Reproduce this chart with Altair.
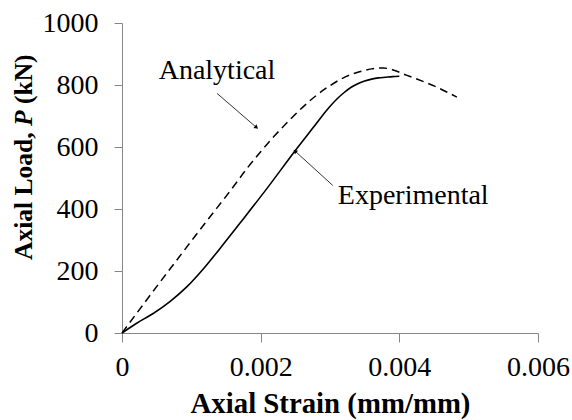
import altair as alt
import pandas as pd

# Analytical (dashed) curve
ana_strain = [0, 0.0004, 0.0008, 0.0012, 0.0016, 0.0018, 0.002, 0.0022, 0.0024,
              0.0026, 0.0028, 0.003, 0.0032, 0.0034, 0.0036, 0.00377,
              0.0039, 0.0041, 0.0045, 0.00483]
ana_load = [0, 120, 238, 355, 470, 530, 585, 636, 683,
            727, 766, 798, 824, 841, 852, 855,
            849, 832, 797, 761]

# Experimental (solid) curve
exp_strain = [0, 0.0002, 0.00045, 0.0007, 0.00093, 0.0012, 0.00145, 0.0017, 0.0021,
              0.0025, 0.0028, 0.00295, 0.0031, 0.0032, 0.0033, 0.0034, 0.0035, 0.0036,
              0.0037, 0.0038, 0.0039, 0.004]
exp_load = [0, 30, 63, 103, 148, 214, 283, 354, 469,
            589, 675, 718, 755, 775, 792, 804, 813, 819,
            823, 825, 827, 828]

# Annotations
label_text = ["Analytical", "Experimental"]
label_x = [0.00137, 0.0042]
label_y = [818, 415]
arrow_x1 = [0.00137, 0.00304]
arrow_y1 = [773, 476]
arrow_x2 = [0.00194, 0.002495]
arrow_y2 = [663, 587]
arrow_angle = [131, 312]

x_ticks = [0, 0.002, 0.004, 0.006]
y_ticks = [0, 200, 400, 600, 800, 1000]

FONT = "Times New Roman, Liberation Serif, Tinos, DejaVu Serif, serif"

ana = pd.DataFrame({"strain": ana_strain, "load": ana_load})
exp = pd.DataFrame({"strain": exp_strain, "load": exp_load})
labels = pd.DataFrame({"text": label_text, "x": label_x, "y": label_y})
arrows = pd.DataFrame({"x1": arrow_x1, "y1": arrow_y1, "x2": arrow_x2, "y2": arrow_y2,
                       "ang": arrow_angle})

xscale = alt.Scale(domain=[0, 0.006], nice=False, zero=True)
yscale = alt.Scale(domain=[0, 1000], nice=False)

xaxis = alt.Axis(values=x_ticks, format=".3~f", grid=False, title="Axial Strain (mm/mm)",
                 labelFont=FONT, labelFontSize=28, labelColor="black", labelPadding=11,
                 tickSize=9, tickColor="#868686", domainColor="#868686",
                 titleFont=FONT, titleFontSize=28.8, titleFontWeight="bold", titleColor="black",
                 titleY=79, titleBaseline="alphabetic", labelFlush=False)
yaxis = alt.Axis(values=y_ticks, format="d", grid=False, title=None,
                 labelFont=FONT, labelFontSize=28, labelColor="black", labelPadding=16,
                 tickSize=8, tickColor="#868686", domainColor="#868686")

base_x = alt.X("strain:Q", scale=xscale, axis=xaxis)
base_y = alt.Y("load:Q", scale=yscale, axis=yaxis)

ana_line = alt.Chart(ana).mark_line(color="black", strokeWidth=1.5, strokeDash=[8, 5],
                                    interpolate="monotone").encode(x=base_x, y=base_y)
exp_line = alt.Chart(exp).mark_line(color="black", strokeWidth=1.6,
                                    interpolate="monotone").encode(x="strain:Q", y="load:Q")

txt = alt.Chart(labels).mark_text(font=FONT, fontSize=28, align="center",
                                  baseline="alphabetic", color="black").encode(
    x="x:Q", y="y:Q", text="text:N")

arr = alt.Chart(arrows).mark_rule(color="black", strokeWidth=0.8).encode(
    x="x1:Q", y="y1:Q", x2="x2:Q", y2="y2:Q")
heads = alt.Chart(arrows).mark_point(shape="triangle-up", filled=True, color="black",
                                     size=22, opacity=1).encode(
    x="x2:Q", y="y2:Q", angle=alt.Angle("ang:Q", scale=None))

# y-axis title composed of parts (italic P)
yt1 = alt.Chart(pd.DataFrame({"t": ["Axial Load,"]})).mark_text(
    font=FONT, fontSize=25.5, fontWeight="bold", angle=270, align="left",
    baseline="alphabetic", color="black").encode(
    x=alt.value(-90), y=alt.value(237), text="t:N")
yt2 = alt.Chart(pd.DataFrame({"t": ["P"]})).mark_text(
    font=FONT, fontSize=25.5, fontWeight="bold", fontStyle="italic", angle=270,
    align="left", baseline="alphabetic", color="black").encode(
    x=alt.value(-90), y=alt.value(103), text="t:N")
yt3 = alt.Chart(pd.DataFrame({"t": ["(kN)"]})).mark_text(
    font=FONT, fontSize=25.5, fontWeight="bold", angle=270, align="left",
    baseline="alphabetic", color="black").encode(
    x=alt.value(-90), y=alt.value(81), text="t:N")

chart = alt.layer(ana_line, exp_line, arr, heads, txt, yt1, yt2, yt3).properties(
    width=416, height=310,
    autosize=alt.AutoSizeParams(type="none"),
    padding={"left": 122, "top": 23, "right": 34, "bottom": 87},
    background="white",
).configure_view(stroke=None)

chart.save("out.html", embed_options={"renderer": "svg", "actions": False})
